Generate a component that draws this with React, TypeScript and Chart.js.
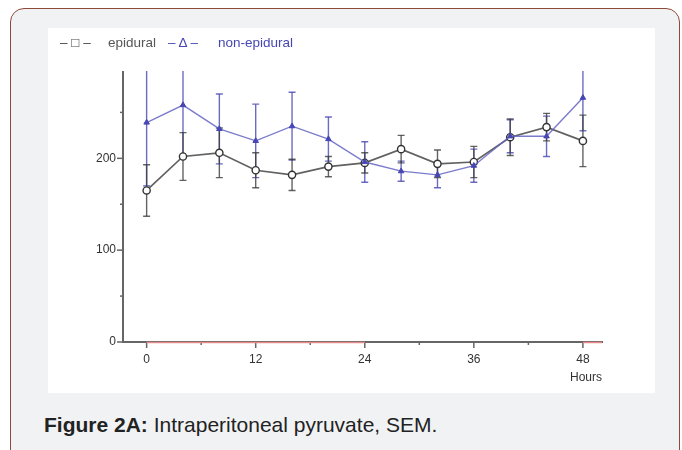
import React, { useEffect, useRef } from "react";
import { Chart, registerables } from "chart.js";

Chart.register(...registerables);

const hours = [0, 4, 8, 12, 16, 20, 24, 28, 32, 36, 40, 44, 48];
const epidural = [165, 202, 206, 187, 182, 191, 195, 210, 194, 196, 223, 234, 219];
const epiduralSem = [28, 26, 27, 19, 17, 11, 11, 15, 15, 17, 20, 15, 28];
const nonEpidural = [239, 258, 232, 219, 235, 221, 196, 186, 182, 192, 224, 224, 266];
const nonEpiduralSem = [69, 57, 38, 40, 37, 24, 22, 11, 14, 18, 18, 22, 36];
const xTicks = [0, 6, 12, 18, 24, 30, 36, 42, 48];
const yTicks = [0, 50, 100, 150, 200, 250];
const xLabelEvery = 12;
const yLabelEvery = 100;

const FONT = "'Liberation Sans', Arial, sans-serif";
const NON_COLOR = "#4646b4";
const AXIS_COLOR = "#666666";

const errorBarPlugin = {
  id: "errorBars",
  beforeDatasetsDraw(chart: any) {
    const { ctx, chartArea } = chart;
    const xs = chart.scales.x;
    const ys = chart.scales.y;
    const sets = [
      { mean: nonEpidural, sem: nonEpiduralSem, color: "rgba(70,70,180,0.8)" },
      { mean: epidural, sem: epiduralSem, color: "rgba(60,60,60,0.8)" },
    ];
    ctx.save();
    ctx.beginPath();
    ctx.rect(chartArea.left, chartArea.top - 1, chartArea.right - chartArea.left, chartArea.bottom - chartArea.top + 1);
    ctx.clip();
    for (const s of sets) {
      ctx.strokeStyle = s.color;
      ctx.lineWidth = 1.4;
      s.mean.forEach((m, i) => {
        const x = xs.getPixelForValue(hours[i]);
        const yTop = ys.getPixelForValue(m + s.sem[i]);
        const yBot = ys.getPixelForValue(m - s.sem[i]);
        ctx.beginPath();
        ctx.moveTo(x, yTop);
        ctx.lineTo(x, yBot);
        ctx.stroke();
        const cap = 3.5;
        ctx.beginPath();
        if (yTop >= chartArea.top) {
          ctx.moveTo(x - cap, yTop);
          ctx.lineTo(x + cap, yTop);
        }
        ctx.moveTo(x - cap, yBot);
        ctx.lineTo(x + cap, yBot);
        ctx.stroke();
      });
    }
    ctx.restore();
  },
};

const axisDecorPlugin = {
  id: "axisDecor",
  afterDraw(chart: any) {
    const { ctx, chartArea } = chart;
    const xs = chart.scales.x;
    const ys = chart.scales.y;
    ctx.save();
    ctx.strokeStyle = AXIS_COLOR;
    ctx.lineWidth = 1.5;
    for (const t of xTicks) {
      const x = xs.getPixelForValue(t);
      const len = t % xLabelEvery === 0 ? 6 : 3;
      ctx.beginPath();
      ctx.moveTo(x, chartArea.bottom);
      ctx.lineTo(x, chartArea.bottom + len);
      ctx.stroke();
    }
    for (const t of yTicks) {
      const y = ys.getPixelForValue(t);
      const len = t % yLabelEvery === 0 ? 6 : 3;
      ctx.beginPath();
      ctx.moveTo(chartArea.left, y);
      ctx.lineTo(chartArea.left - len, y);
      ctx.stroke();
    }
    ctx.strokeStyle = "rgba(236,140,140,0.95)";
    ctx.lineWidth = 1.5;
    const yb = chartArea.bottom + 0.5;
    ctx.beginPath();
    ctx.moveTo(xs.getPixelForValue(0), yb);
    ctx.lineTo(xs.getPixelForValue(24), yb);
    ctx.moveTo(xs.getPixelForValue(48), yb);
    ctx.lineTo(chartArea.right, yb);
    ctx.stroke();
    ctx.restore();
  },
};

function ChartView() {
  const ref = useRef<HTMLCanvasElement | null>(null);
  useEffect(() => {
    if (!ref.current) return;
    const chart = new Chart(ref.current, {
      type: "line",
      data: {
        datasets: [
          {
            label: "non-epidural",
            data: hours.map((h, i) => ({ x: h, y: nonEpidural[i] })),
            borderColor: "rgba(100,100,195,0.85)",
            borderWidth: 1.4,
            pointStyle: "triangle",
            pointRadius: 3.2,
            pointBackgroundColor: NON_COLOR,
            pointBorderColor: NON_COLOR,
            pointBorderWidth: 1,
            tension: 0,
          },
          {
            label: "epidural",
            data: hours.map((h, i) => ({ x: h, y: epidural[i] })),
            borderColor: "rgba(80,80,80,0.9)",
            borderWidth: 1.7,
            pointStyle: "circle",
            pointRadius: 3.6,
            pointBackgroundColor: "#ffffff",
            pointBorderColor: "#333333",
            pointBorderWidth: 1.4,
            tension: 0,
          },
        ],
      },
      options: {
        animation: false,
        responsive: false,
        maintainAspectRatio: false,
        layout: { padding: { left: 0, right: 53, top: 44, bottom: 8 } },
        plugins: {
          legend: { display: false },
          tooltip: { enabled: false },
        },
        scales: {
          x: {
            type: "linear",
            min: -2.6,
            max: 50.1,
            afterBuildTicks: (s: any) => {
              s.ticks = xTicks.map((v) => ({ value: v }));
            },
            afterFit: (s: any) => {
              s.height = 43;
            },
            grid: { display: true, drawOnChartArea: false, drawTicks: false },
            border: { display: true, color: AXIS_COLOR, width: 2 },
            ticks: {
              autoSkip: false,
              maxRotation: 0,
              padding: 10,
              color: "#333333",
              font: { family: FONT, size: 12 },
              callback: (v: any) => (Number(v) % xLabelEvery === 0 ? String(v) : ""),
            },
            title: {
              display: true,
              text: "Hours",
              align: "end",
              color: "#333333",
              font: { family: FONT, size: 12 },
              padding: 0,
            },
          },
          y: {
            type: "linear",
            min: 0,
            max: 294,
            afterBuildTicks: (s: any) => {
              s.ticks = yTicks.map((v) => ({ value: v }));
            },
            afterFit: (s: any) => {
              s.width = 75;
            },
            grid: { display: true, drawOnChartArea: false, drawTicks: false },
            border: { display: true, color: AXIS_COLOR, width: 2 },
            ticks: {
              autoSkip: false,
              padding: 7,
              color: "#333333",
              font: { family: FONT, size: 12 },
              callback: (v: any) => (Number(v) % yLabelEvery === 0 ? String(v) : ""),
            },
          },
        },
      },
      plugins: [errorBarPlugin, axisDecorPlugin],
    } as any);
    return () => chart.destroy();
  }, []);
  return <canvas ref={ref} width={607} height={365} style={{ display: "block", width: 607, height: 365 }} />;
}

const legendText: React.CSSProperties = {
  position: "absolute",
  top: 7,
  fontSize: 13.5,
  lineHeight: "16px",
  whiteSpace: "nowrap",
};

export default function App() {
  return (
    <div
      style={{
        position: "absolute",
        left: 0,
        top: 0,
        width: 682,
        height: 450,
        overflow: "hidden",
        background: "#ffffff",
        fontFamily: FONT,
      }}
    >
      <div
        style={{
          position: "absolute",
          left: 10,
          top: 8,
          width: 668,
          height: 460,
          border: "1px solid #8e4a38",
          borderRadius: 14,
          background: "#f1f2f4",
        }}
      />
      <div
        style={{
          position: "absolute",
          left: 48,
          top: 28,
          width: 607,
          height: 365,
          background: "#ffffff",
        }}
      >
        <ChartView />
        <span style={{ ...legendText, left: 12, color: "#444" }}>– □ –</span>
        <span style={{ ...legendText, left: 60, color: "#555" }}>epidural</span>
        <span style={{ ...legendText, left: 120, color: NON_COLOR }}>– Δ –</span>
        <span style={{ ...legendText, left: 170, color: NON_COLOR }}>non-epidural</span>
      </div>
      <div
        style={{
          position: "absolute",
          left: 44,
          top: 411,
          fontSize: 21,
          color: "#222222",
          whiteSpace: "nowrap",
          lineHeight: "28px",
        }}
      >
        <b>Figure 2A:</b> Intraperitoneal pyruvate, SEM.
      </div>
    </div>
  );
}
